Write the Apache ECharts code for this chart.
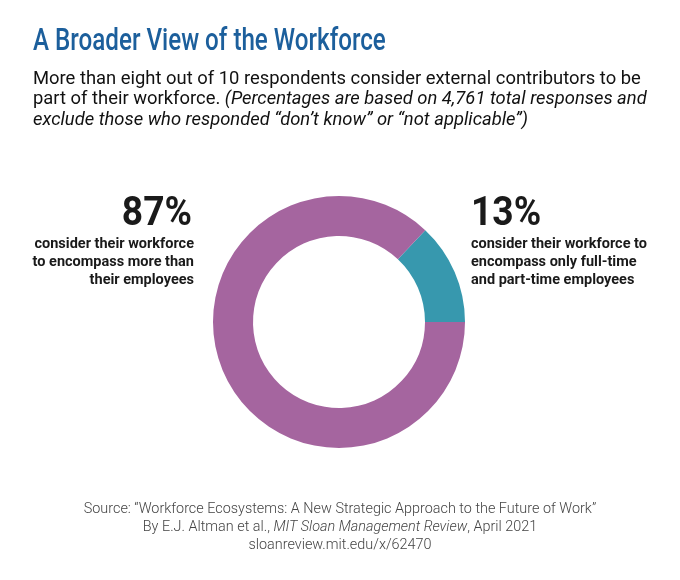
<!DOCTYPE html>
<html>
<head>
<meta charset="utf-8">
<script src="https://cdn.jsdelivr.net/npm/echarts@6/dist/echarts.min.js"></script>
<style>
  html, body { margin: 0; padding: 0; background: #fff; }
  #chart { width: 680px; height: 580px; }
</style>
</head>
<body>
<div id="chart"></div>
<script>
    'use strict';

    // slices, drawn clockwise from the top-right
    var sliceNames = ['Only full-time and part-time employees', 'More than their employees'];
    var sliceValues = [13, 87];
    var sliceColors = ['#3798ae', '#a5659f'];

    var titleText = 'A Broader View of the Workforce';
    var subtitleLines = [
        'More than eight out of 10 respondents consider external contributors to be',
        'part of their workforce. {i|(Percentages are based on 4,761 total responses and}',
        '{i|exclude those who responded \u201cdon\u2019t know\u201d or \u201cnot applicable\u201d)}'
    ];

    var leftLines = ['consider their workforce', 'to encompass more than', 'their employees'];
    var rightLines = ['consider their workforce to', 'encompass only full-time', 'and part-time employees'];

    var sourceLines = [
        'Source: \u201cWorkforce Ecosystems: A New Strategic Approach to the Future of Work\u201d',
        'By E.J. Altman et al., {i|MIT Sloan Management Review}, April 2021',
        'sloanreview.mit.edu/x/62470'
    ];

    var chart = echarts.init(document.getElementById('chart'));

    var startAngle = sliceValues[0] / 100 * 360;

    // condensed look: bold Roboto squeezed horizontally
    function bigNumber(x, y, value, align) {
        return {
            type: 'text', x: x, y: y, scaleX: 0.93,
            style: { text: value + '%', font: 'bold 40px Roboto', fill: '#1a1a1a', align: align, verticalAlign: 'top' }
        };
    }

    function note(x, y, lines, align) {
        return {
            type: 'text', x: x, y: y, scaleX: 1,
            style: { text: lines.join('\n'), font: 'bold 14.5px Roboto', fill: '#1a1a1a', lineHeight: 18, align: align, verticalAlign: 'top' }
        };
    }

    var option = {
        backgroundColor: '#fff',
        animation: false,
        series: [{
            type: 'pie',
            center: [339, 322],
            radius: [86, 126],
            startAngle: startAngle,
            silent: true,
            label: { show: false },
            labelLine: { show: false },
            itemStyle: { borderWidth: 0 },
            data: sliceNames.map(function(n, i) {
                return { name: n, value: sliceValues[i], itemStyle: { color: sliceColors[i] } };
            })
        }],
        graphic: [
            {
                type: 'text', x: 33, y: 27, scaleX: 0.78,
                style: { text: titleText, font: '500 31px Roboto', fill: '#1c5f9c', verticalAlign: 'top' }
            },
            {
                type: 'text', x: 33, y: 69,
                style: {
                    text: subtitleLines.join('\n'),
                    font: '18.4px Roboto', fill: '#111', lineHeight: 20.5, verticalAlign: 'top',
                    rich: { i: { font: 'italic 18.4px Roboto', fill: '#111', lineHeight: 20.5 } }
                }
            },
            bigNumber(192, 195, sliceValues[1], 'right'),
            note(194, 235, leftLines, 'right'),
            bigNumber(471, 195, sliceValues[0], 'left'),
            note(471, 235, rightLines, 'left'),
            {
                type: 'text', x: 340, y: 500,
                style: {
                    text: sourceLines.join('\n'),
                    font: '300 14.4px Roboto', fill: '#444', lineHeight: 18, align: 'center', verticalAlign: 'top',
                    rich: { i: { font: 'italic 300 14.4px Roboto', fill: '#444', lineHeight: 18 } }
                }
            }
        ]
    };

    chart.setOption(option);
</script>
</body>
</html>
